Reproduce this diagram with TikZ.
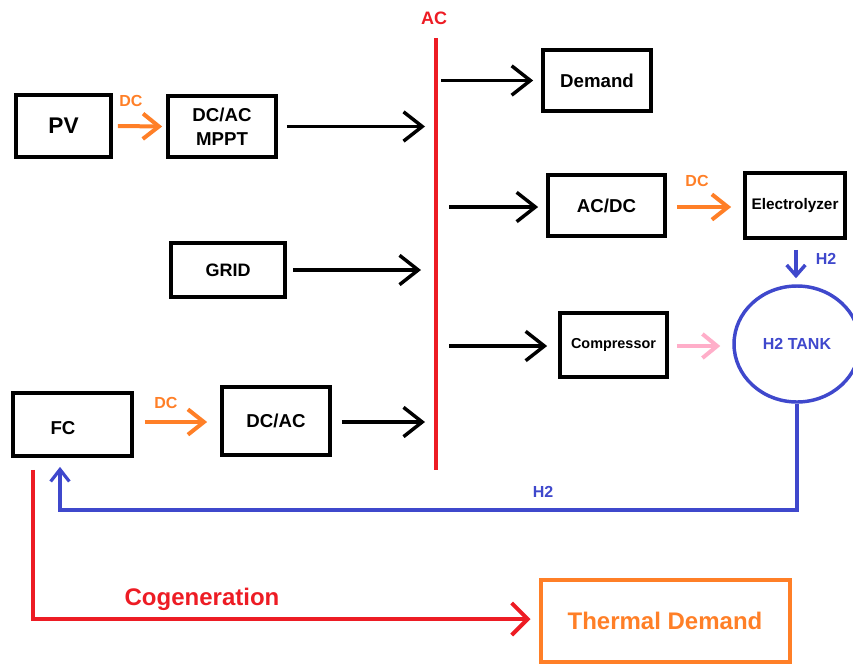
\documentclass[tikz,border=0pt]{standalone}
\usepackage{fontspec}
\setmainfont{Liberation Sans}
\usetikzlibrary{arrows.meta,calc,shapes.geometric}
\definecolor{orng}{HTML}{FF7F27}
\definecolor{rd}{HTML}{ED1C24}
\definecolor{blu}{HTML}{3F48CC}
\definecolor{pnk}{HTML}{FFAEC9}
\newcommand{\fsz}[1]{\fontsize{#1}{#1}\selectfont}
\begin{document}
\begin{tikzpicture}[x=0.75pt,y=-0.75pt,
  box/.style={draw=black, line width=2.8pt, inner sep=0pt, align=center},
  sz/.style 2 args={minimum width=#1*0.75pt, minimum height=#2*0.75pt},
  blk/.style={draw=black, line width=2.6pt, -{Straight Barb[length=14pt,width=22pt]}},
  org/.style={draw=orng, line width=3pt, -{Straight Barb[length=12pt,width=19pt]}},
  lbl/.style={inner sep=0pt, font=\fsz{12}\bfseries}]
\useasboundingbox (0,0) rectangle (853,664);
% boxes
\node[box, sz={95}{62}, font=\fsz{17}\bfseries] (pv) at (63.5,126) {PV};
\node[box, sz={108}{61}, font=\fontsize{14}{18}\selectfont\bfseries] (mppt) at (222,126.5) {DC/AC\\MPPT};
\node[box, sz={108}{61}, font=\fsz{14}\bfseries] (demand) at (597,80.5) {Demand};
\node[box, sz={117}{61}, font=\fsz{14}\bfseries] (acdc) at (606.5,205.5) {AC/DC};
\node[box, sz={100}{65}, font=\fsz{11.5}\bfseries] (elec) at (795,205.5) {Electrolyzer};
\node[box, sz={107}{64}, font=\fsz{10.8}\bfseries] (comp) at (613.5,345) {Compressor};
\node[box, sz={114}{54}, font=\fsz{13.5}\bfseries] (grid) at (228,270) {GRID};
\node[box, sz={119}{63}] (fc) at (72.5,424.5) {};
\node[inner sep=0pt, font=\fsz{14}\bfseries] (fctext) at (63,428) {FC};
\node[box, sz={108}{68}, font=\fsz{14}\bfseries] (dcac) at (276,421) {DC/AC};
\node[draw=orng, line width=3pt, sz={249}{82}, inner sep=0pt, text=orng, font=\fsz{18}\bfseries] (thermal) at (665,621) {Thermal Demand};
\node[draw=blu, ellipse, line width=2.6pt, sz={126}{116}, inner sep=0pt, text=blu, font=\fsz{12}\bfseries] (tank) at (797,344) {H2 TANK};
% AC bus
\coordinate (bustop) at (436,38);
\coordinate (busbot) at (436,470);
\draw[rd, line width=2.3pt] (bustop) -- (busbot);
\node[lbl, text=rd, font=\fsz{13.5}\bfseries] (aclbl) at (434,18) {AC};
% labels
\node[lbl, text=orng] (dc1) at (131,101) {DC};
\node[lbl, text=orng] (dc2) at (697,181) {DC};
\node[lbl, text=orng] (dc3) at (166,403) {DC};
\node[lbl, text=blu] (h2a) at (826,259) {H2};
\node[lbl, text=blu] (h2b) at (543,492) {H2};
\node[lbl, text=rd, font=\fsz{18}\bfseries] (cogenlbl) at (202,599) {Cogeneration};
% arrows
\draw[org] ($(pv.east)+(5,0)$) -- ($(mppt.west)+(-4,0)$);
\draw[blk] ($(mppt.east)+(9,0)$) -- ($(mppt.east -| bustop)+(-11,0)$);
\draw[blk] ($(demand.west -| bustop)+(5,0)$) -- ($(demand.west)+(-8,0)$);
\draw[blk] ($(acdc.west -| bustop)+(13,1.5)$) -- ($(acdc.west)+(-8,1.5)$);
\draw[org] ($(acdc.east)+(10,1.5)$) -- ($(elec.west)+(-12,1.5)$);
\draw[blu, line width=2.6pt, -{Straight Barb[length=8pt,width=14pt]}] ($(elec.south)+(1,10)$) -- ($(elec.south |- tank.north)+(1,-6)$);
\draw[blk] ($(comp.west -| bustop)+(13,1)$) -- ($(comp.west)+(-11,1)$);
\draw[pnk, line width=3pt, -{Straight Barb[length=11pt,width=18pt]}] ($(comp.east)+(8,1)$) -- ($(tank.west)+(-12,2)$);
\draw[blk] ($(grid.east)+(6,0)$) -- ($(grid.east -| bustop)+(-15,0)$);
\draw[org] ($(fc.east)+(11,-2.5)$) -- ($(dcac.west)+(-13,1)$);
\draw[blk] ($(dcac.east)+(10,1)$) -- ($(dcac.east -| bustop)+(-11,1)$);
% H2 return to FC
\coordinate (retpt) at (60,510);
\draw[blu, line width=2.4pt, -{Straight Barb[length=9pt,width=14pt]}] (tank.south) |- (retpt) -- ($(fc.south -| retpt)+(0,9)$);
% cogeneration
\coordinate (cogen) at (33,619);
\draw[rd, line width=3pt, -{Straight Barb[length=12pt,width=24pt]}] ($(fc.south -| cogen)+(0,12)$) -- (cogen) -- ($(cogen -| thermal.west)+(-8,0)$);
\end{tikzpicture}
\end{document}
